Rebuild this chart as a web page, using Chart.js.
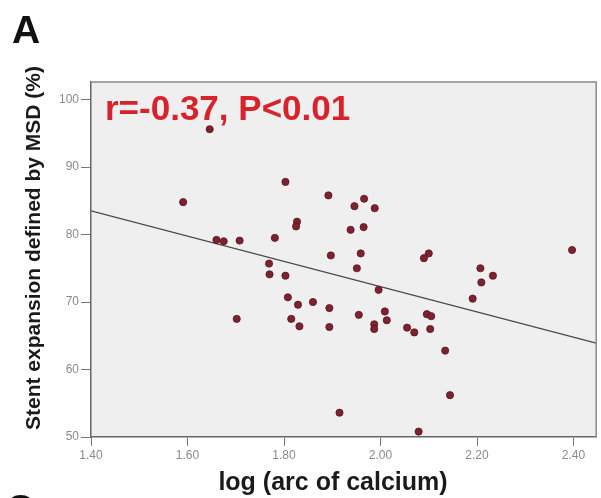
<!DOCTYPE html>
<html>
<head>
<meta charset="utf-8">
<script src="https://cdn.jsdelivr.net/npm/chart.js@4.4.1/dist/chart.umd.min.js"></script>
<style>
  html, body { margin: 0; padding: 0; background: #fff; }
  #wrap { width: 601px; height: 498px; }
</style>
</head>
<body>
<div id="wrap"><canvas id="chart" width="601" height="498"></canvas></div>
<script>
// log(arc of calcium) vs stent expansion (%)
const logArc = [
  1.646, 1.803, 1.591, 1.892, 1.827, 1.825, 1.660, 1.675, 1.708, 1.781,
  1.897, 1.769, 1.966, 1.946, 1.988, 1.938, 1.965, 1.959, 2.100, 2.090,
  2.397, 1.951, 2.207, 1.770, 1.803, 1.808, 1.829, 1.860, 1.894, 1.702,
  1.815, 1.832, 1.894, 1.915, 2.233, 2.209, 1.996, 2.191, 1.955, 2.009,
  2.013, 2.096, 2.105, 1.987, 1.987, 2.055, 2.070, 2.103, 2.134, 2.144,
  2.079
];
const stentExp = [
  95.6, 87.8, 84.8, 85.8, 81.9, 81.2, 79.2, 79.0, 79.1, 79.5,
  76.9, 75.7, 85.3, 84.2, 83.9, 80.7, 81.1, 77.2, 77.2, 76.5,
  77.7, 75.0, 75.0, 74.1, 73.9, 70.7, 69.6, 70.0, 69.1, 67.5,
  67.5, 66.4, 66.3, 53.6, 73.9, 72.9, 71.8, 70.5, 68.1, 68.6,
  67.3, 68.2, 67.9, 66.7, 66.0, 66.2, 65.5, 66.0, 62.8, 56.2,
  50.8
];
// fitted line end points
const fitX = [1.40, 2.447];
const fitY = [83.5, 63.9];

const xTicks = [1.40, 1.60, 1.80, 2.00, 2.20, 2.40];
const yTicks = [50, 60, 70, 80, 90, 100];

const FONT = '"Liberation Sans", Arial, sans-serif';

const points = logArc.map((x, i) => ({ x, y: stentExp[i] }));
const fitLine = fitX.map((x, i) => ({ x, y: fitY[i] }));

// plot background + frame
const panelPlugin = {
  id: 'panel',
  beforeDraw(chart) {
    const { ctx, chartArea: a } = chart;
    ctx.save();
    ctx.fillStyle = '#efefef';
    ctx.fillRect(a.left, a.top, a.right - a.left, a.bottom - a.top);
    ctx.restore();
  },
  afterDraw(chart) {
    const { ctx, chartArea: a } = chart;
    ctx.save();
    ctx.strokeStyle = '#8a8a8a';
    ctx.lineWidth = 1.5;
    ctx.beginPath();
    ctx.moveTo(a.left, a.top);
    ctx.lineTo(a.right, a.top);
    ctx.lineTo(a.right, a.bottom);
    ctx.stroke();
    ctx.restore();
  }
};

// panel letter, titles and stats text
const textPlugin = {
  id: 'texts',
  afterDraw(chart) {
    const { ctx } = chart;
    ctx.save();
    ctx.fillStyle = '#111';
    ctx.font = `bold 39px ${FONT}`;
    ctx.textAlign = 'left';
    ctx.textBaseline = 'alphabetic';
    ctx.fillText('A', 12, 43);
    ctx.fillText('C', 6, 522);

    ctx.fillStyle = '#1a1a1a';
    ctx.font = `bold 25px ${FONT}`;
    ctx.textAlign = 'center';
    ctx.fillText('log (arc of calcium)', 333, 490);

    ctx.save();
    ctx.translate(34, 248);
    ctx.rotate(-Math.PI / 2);
    ctx.font = `bold 21px ${FONT}`;
    ctx.textBaseline = 'middle';
    ctx.fillText('Stent expansion defined by MSD (%)', 0, 0);
    ctx.restore();

    ctx.fillStyle = '#d8232c';
    ctx.font = `bold 35px ${FONT}`;
    ctx.textAlign = 'left';
    ctx.textBaseline = 'alphabetic';
    ctx.fillText('r=-0.37, P<0.01', 105, 120);
    ctx.restore();
  }
};

new Chart(document.getElementById('chart'), {
  type: 'scatter',
  data: {
    datasets: [
      {
        data: fitLine,
        showLine: true,
        borderColor: '#4a4a4a',
        borderWidth: 1.3,
        pointRadius: 0,
        order: 2
      },
      {
        data: points,
        pointRadius: 3.6,
        pointBackgroundColor: '#7c2230',
        pointBorderColor: '#5a1520',
        pointBorderWidth: 0.8,
        order: 1
      }
    ]
  },
  options: {
    responsive: false,
    animation: false,
    layout: { padding: { top: 82, right: 3, left: 0, bottom: 0 } },
    plugins: { legend: { display: false }, tooltip: { enabled: false } },
    scales: {
      x: {
        type: 'linear',
        min: 1.40,
        max: 2.447,
        afterFit: s => { s.height = 61; },
        afterBuildTicks: s => { s.ticks = xTicks.map(v => ({ value: v })); },
        ticks: {
          color: '#8a8a8a',
          padding: 2,
          font: { family: FONT, size: 12 },
          callback: v => v.toFixed(2)
        },
        grid: { drawOnChartArea: false, drawTicks: true, tickLength: 9, color: '#777' },
        border: { color: '#666', width: 1.5 }
      },
      y: {
        type: 'linear',
        min: 50,
        max: 102.6,
        afterFit: s => { s.width = 91; },
        afterBuildTicks: s => { s.ticks = yTicks.map(v => ({ value: v })); },
        ticks: {
          color: '#8a8a8a',
          padding: 2,
          font: { family: FONT, size: 12 }
        },
        grid: { drawOnChartArea: false, drawTicks: true, tickLength: 10, color: '#777' },
        border: { color: '#666', width: 1.5 }
      }
    }
  },
  plugins: [panelPlugin, textPlugin]
});
</script>
</body>
</html>
